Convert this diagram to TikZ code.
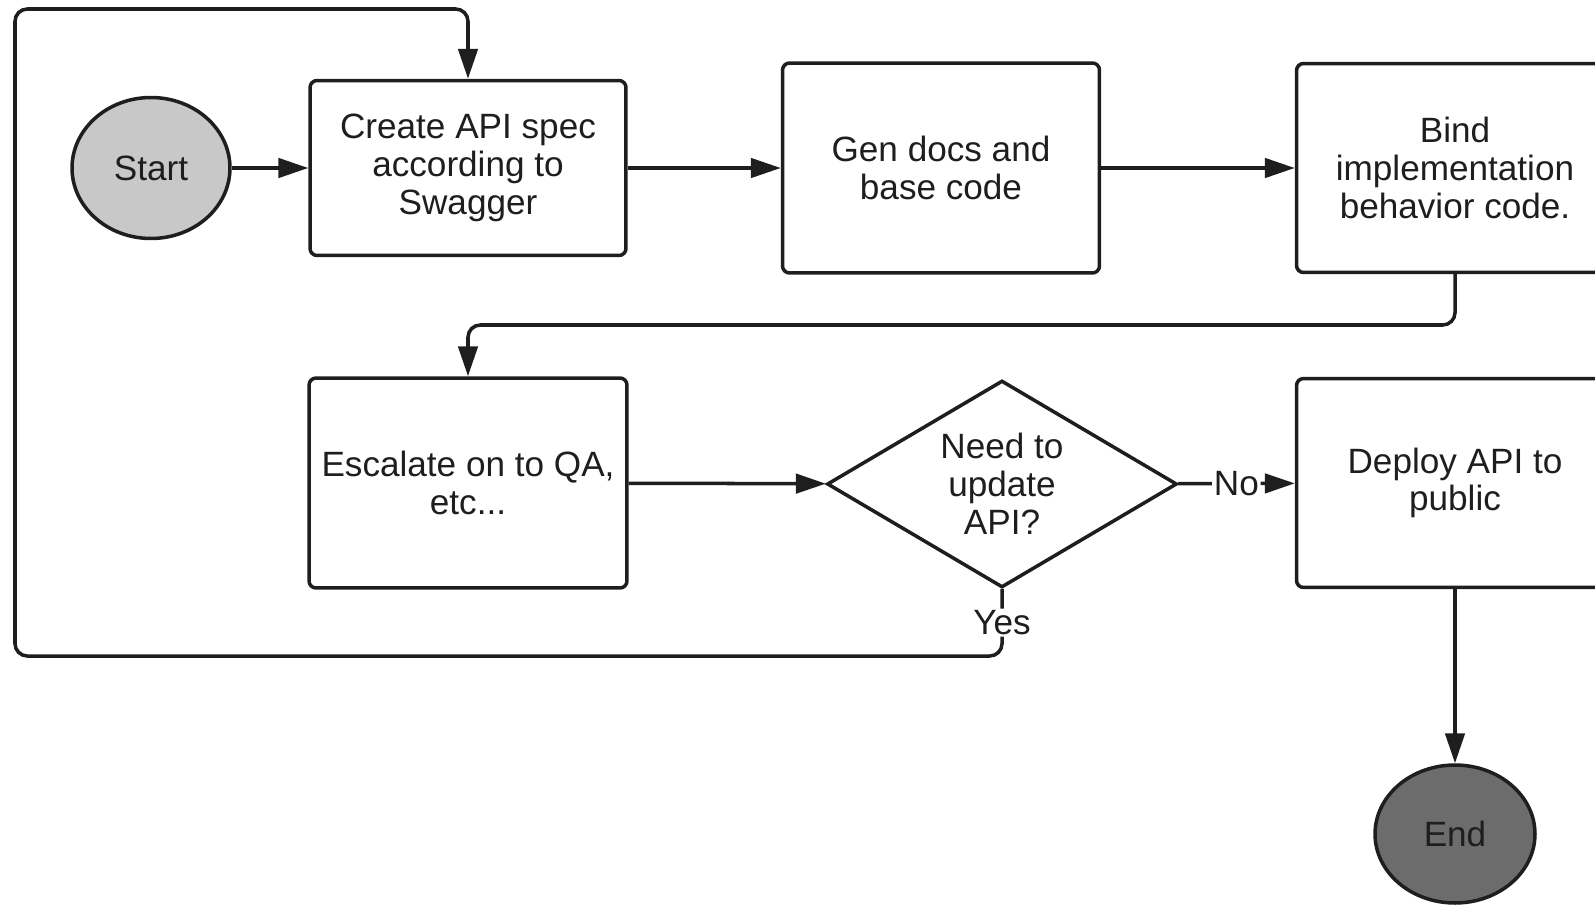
\documentclass[tikz,border=0pt]{standalone}
\usepackage{fontspec}
\setmainfont{Liberation Sans}
\usetikzlibrary{arrows.meta,shapes.geometric}
\definecolor{ink}{HTML}{1E1E1E}
\definecolor{startgray}{HTML}{C8C8C8}
\definecolor{endgray}{HTML}{6C6C6C}
\newcommand\flowfont{\fontsize{20}{21.5}\selectfont}

\begin{document}
\begin{tikzpicture}[x=0.02cm,y=-0.02cm,line width=2pt,>={Triangle[length=17pt,width=11pt]},
  box/.style={draw=ink,rounded corners=4pt,align=center,text=ink,font=\flowfont,inner sep=0pt},
  terminal/.style={ellipse,draw=ink,text=ink,font=\flowfont,inner sep=0pt},
  decision/.style={diamond,aspect=1.7,draw=ink,align=center,text=ink,font=\flowfont,inner sep=0pt},
  flow/.style={->,draw=ink,rounded corners=7pt},
  answer/.style={fill=white,inner sep=1pt,text=ink,font=\flowfont}]
\useasboundingbox (0,0) rectangle (1595,906);
\clip (0,0) rectangle (1595,906);
% first row
\node[terminal,fill=startgray,minimum width=3.16cm,minimum height=2.82cm] (start) at (151,168) {Start};
\node[box,minimum width=6.32cm,minimum height=3.5cm] (create) at (468,168) {Create API spec\\according to\\Swagger};
\node[box,minimum width=6.34cm,minimum height=4.2cm] (gen) at (941,168) {Gen docs and\\base code};
\node[box,minimum width=6.34cm,minimum height=4.18cm] (bind) at (1455,168) {Bind\\implementation\\behavior code.};
% second row
\node[box,minimum width=6.36cm,minimum height=4.2cm] (escalate) at (468,483) {Escalate on to QA,\\etc...};
\node[decision,minimum width=7cm,minimum height=4.14cm] (decide) at (1002,484) {Need to\\update\\API?};
\node[box,minimum width=6.34cm,minimum height=4.18cm] (deploy) at (1455,483) {Deploy API to\\public};
% end
\node[terminal,fill=endgray,minimum width=3.2cm,minimum height=2.76cm] (end) at (1455,834) {End};
% turning points
\coordinate (backrow) at (0,325);
\coordinate (loopbl) at (15,656);
\coordinate (looptl) at (15,9);
% connectors
\draw[flow] (start) -- (create);
\draw[flow] (create) -- (gen);
\draw[flow] (gen) -- (bind);
\draw[flow] (bind.south) -- (bind.south |- backrow) -| (escalate.north);
\draw[flow] (escalate) -- (decide);
\draw[flow] (decide) -- node[answer] {No} (deploy);
\draw[flow] (decide.south) -- node[answer] {Yes} (decide.south |- loopbl) -- (loopbl) -- (looptl) -| (create.north);
\draw[flow] (deploy) -- (end);
\end{tikzpicture}
\end{document}
